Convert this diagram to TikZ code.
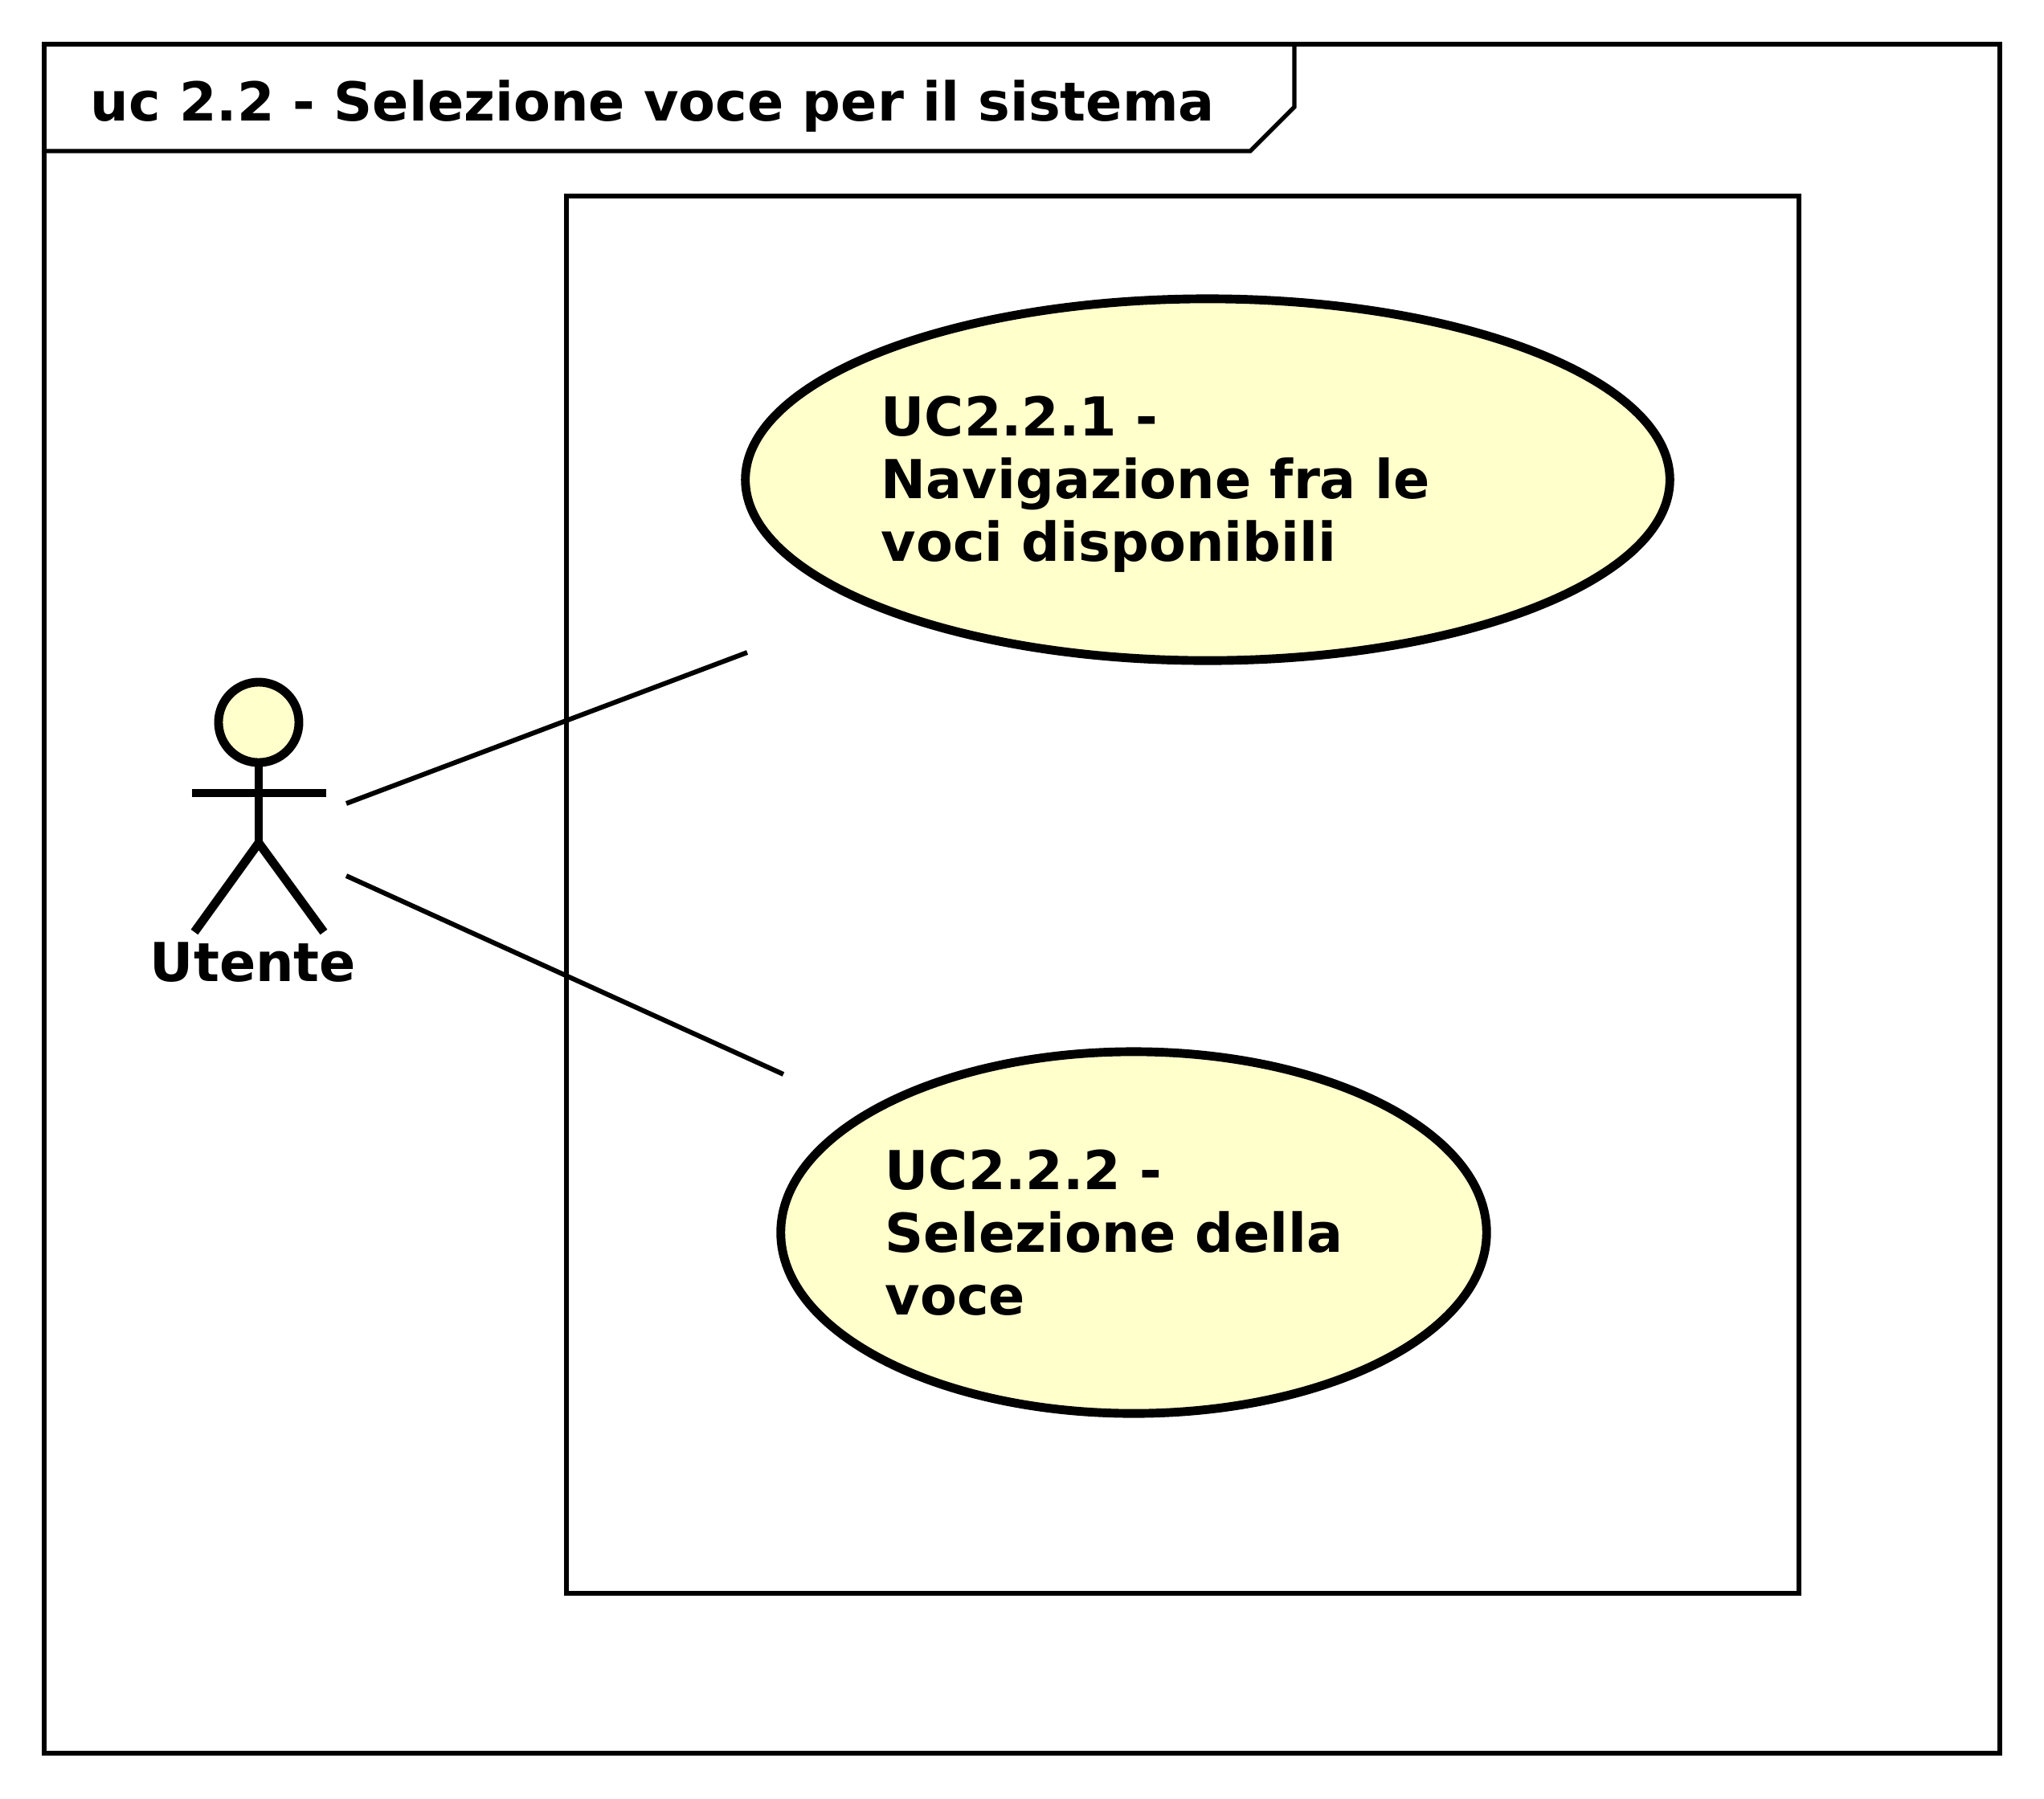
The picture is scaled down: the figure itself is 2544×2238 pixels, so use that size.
\documentclass[tikz,border=0pt]{standalone}
\usepackage{fontspec}
\setmainfont{DejaVu Sans}
\usepackage{tikz}
\usepackage{xcolor}
\usetikzlibrary{shapes.geometric}
\definecolor{ucfill}{HTML}{FFFFCC}

\begin{document}
\begin{tikzpicture}[x=0.01cm,y=-0.01cm]%
  \tikzstyle{thinl}=[draw=black,line width=1.7pt]
  \tikzstyle{ucase}=[ellipse,draw=black,fill=ucfill,line width=3.1pt,inner sep=0,outer sep=0,minimum height=4.5cm]
  \tikzstyle{uctext}=[font=\fontsize{19}{22.2}\selectfont\bfseries,align=left,anchor=north west,inner sep=0]
  \tikzstyle{limb}=[draw=black,line width=3.1pt]
  \useasboundingbox (0,0) rectangle (2544,2238);
  \fill[white] (0,0) rectangle (2544,2238);
  % frame
  \draw[thinl] (55,55) rectangle (2489,2182);
  \draw[thinl,line width=1.5pt] (55,188) -- (1556,188) -- (1611,133) -- (1611,55);
  \node(title)[font=\fontsize{19}{22}\selectfont\bfseries,anchor=base west,inner sep=0] at (112,150) {uc 2.2 - Selezione voce per il sistema};
  % system
  \node(system)[rectangle,thinl,minimum width=15.33cm,minimum height=17.38cm,inner sep=0,outer sep=0,anchor=north west] at (705,244) {};
  % use cases
  \node(uc1)[ucase,minimum width=11.5cm] at (1503,597) {};
  \node(uc1t)[uctext] at (1096,492) {UC2.2.1 -\\Navigazione fra le\\voci disponibili};
  \node(uc2)[ucase,minimum width=8.78cm] at (1411,1534) {};
  \node(uc2t)[uctext] at (1101,1430) {UC2.2.2 -\\Selezione della\\voce};
  % actor
  \node(head)[circle,draw=black,fill=ucfill,line width=3.1pt,outer sep=0,minimum size=1cm,inner sep=0] at (322,899) {};
  \coordinate(hip) at (322,1049);
  \coordinate(arml) at (239,987);
  \coordinate(armr) at (406,987);
  \coordinate(footl) at (242,1160);
  \coordinate(footr) at (403,1160);
  \draw[limb] (head.south) -- (hip);
  \draw[limb] (arml) -- (armr);
  \draw[limb] (footl) -- (hip) -- (footr);
  \node(actor)[font=\fontsize{19}{22}\selectfont\bfseries,inner sep=0,anchor=base] at (315,1221) {Utente};
  % links
  \coordinate(a1) at (431,1000);
  \coordinate(b1) at (930,812);
  \coordinate(a2) at (431,1090);
  \coordinate(b2) at (975,1337);
  \draw[thinl] (a1) -- (b1);
  \draw[thinl] (a2) -- (b2);
\end{tikzpicture}
\end{document}
